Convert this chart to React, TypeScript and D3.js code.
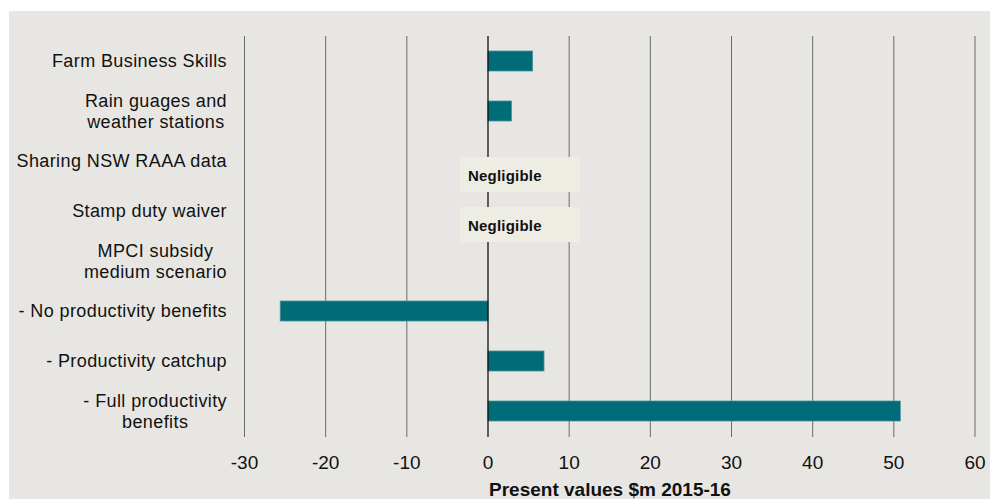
import React, { useEffect, useRef } from "react";
import * as d3 from "d3";

const categories: string[] = [
  "Farm Business Skills",
  "Rain guages and\nweather stations",
  "Sharing NSW RAAA data",
  "Stamp duty waiver",
  "MPCI subsidy\nmedium scenario",
  "- No productivity benefits",
  "- Productivity catchup",
  "- Full productivity\nbenefits",
];
const values: (number | null)[] = [5.5, 2.9, null, null, null, -25.6, 6.9, 50.8];
const negligibleIdx: number[] = [2, 3];
const xTicks: number[] = [-30, -20, -10, 0, 10, 20, 30, 40, 50, 60];
const xTitle = "Present values $m 2015-16";
const negligibleText = "Negligible";

const W = 990;
const H = 499;

export default function App() {
  const ref = useRef<SVGSVGElement | null>(null);

  useEffect(() => {
    const svg = d3.select(ref.current);
    svg.selectAll("*").remove();

    const x = d3.scaleLinear().domain([-30, 60]).range([244.5, 975]);
    const y = d3.scaleBand<number>().domain(d3.range(categories.length)).range([36, 436]).paddingInner(0.6).paddingOuter(0.3);
    const center = (i: number) => (y(i) as number) + y.bandwidth() / 2;

    svg.append("rect").attr("x", 9).attr("y", 11).attr("width", W - 9).attr("height", H - 11).attr("fill", "#e8e6e2");

    // gridlines
    svg
      .append("g")
      .selectAll("line")
      .data(xTicks.filter((t) => t !== 0))
      .join("line")
      .attr("x1", (d) => x(d))
      .attr("x2", (d) => x(d))
      .attr("y1", 36)
      .attr("y2", 437)
      .attr("stroke", "#6b6b6b")
      .attr("stroke-width", 1);

    // bars
    const barData = values.map((v, i) => ({ v, i })).filter((d) => d.v !== null) as { v: number; i: number }[];
    svg
      .append("g")
      .selectAll("rect")
      .data(barData)
      .join("rect")
      .attr("x", (d) => x(Math.min(0, d.v)))
      .attr("width", (d) => Math.abs(x(d.v) - x(0)))
      .attr("y", (d) => y(d.i) as number)
      .attr("height", y.bandwidth())
      .attr("fill", "#006c78")
      .attr("stroke", "#4a949c")
      .attr("stroke-width", 0.8);

    // zero line
    svg
      .append("line")
      .attr("x1", x(0))
      .attr("x2", x(0))
      .attr("y1", 36)
      .attr("y2", 437)
      .attr("stroke", "#000")
      .attr("stroke-width", 1.2);

    // negligible boxes
    const ng = svg.append("g").selectAll("g").data(negligibleIdx).join("g");
    ng.append("rect")
      .attr("x", x(0) - 28)
      .attr("width", 120)
      .attr("y", (d) => center(d) - 4)
      .attr("height", 35)
      .attr("fill", "#eeede4");
    ng.append("text")
      .attr("x", x(0) - 20)
      .attr("y", (d) => center(d) + 19.5)
      .attr("font-family", "Liberation Sans, Arial, sans-serif")
      .attr("font-weight", "bold")
      .attr("font-size", 15)
      .attr("letter-spacing", 0.2)
      .attr("fill", "#111")
      .text(negligibleText);

    // category labels
    const lg = svg.append("g");
    categories.forEach((c, i) => {
      const lines = c.split("\n");
      const lh = 21.5;
      const g = lg.append("g");
      const texts = lines.map((ln, k) =>
        g
          .append("text")
          .attr("y", center(i) + (k - (lines.length - 1) / 2) * lh)
          .attr("dy", "0.35em")
          .attr("font-family", "Liberation Sans, Arial, sans-serif")
          .attr("font-size", 18)
          .attr("letter-spacing", 0.4)
          .attr("fill", "#111")
          .text(ln)
      );
      const widths = texts.map((t) => (t.node() as SVGTextElement).getComputedTextLength());
      const maxW = Math.max(...widths);
      const cx = 227 - maxW / 2;
      texts.forEach((t) => t.attr("x", cx).attr("text-anchor", "middle"));
    });

    // tick labels
    svg
      .append("g")
      .selectAll("text")
      .data(xTicks)
      .join("text")
      .attr("x", (d) => x(d))
      .attr("y", 469)
      .attr("text-anchor", "middle")
      .attr("font-family", "Liberation Sans Narrow, Liberation Sans, Arial, sans-serif")
      .attr("font-size", 19)
      .attr("fill", "#111")
      .text((d) => String(d));

    svg
      .append("text")
      .attr("x", 610)
      .attr("y", 496)
      .attr("text-anchor", "middle")
      .attr("font-family", "Liberation Sans Narrow, Liberation Sans, Arial, sans-serif")
      .attr("font-weight", "bold")
      .attr("font-size", 19)
      .attr("fill", "#111")
      .text(xTitle);
  }, []);

  return (
    <svg
      ref={ref}
      width={W}
      height={H}
      style={{ position: "absolute", left: 0, top: 0, display: "block", background: "#fff" }}
    />
  );
}
